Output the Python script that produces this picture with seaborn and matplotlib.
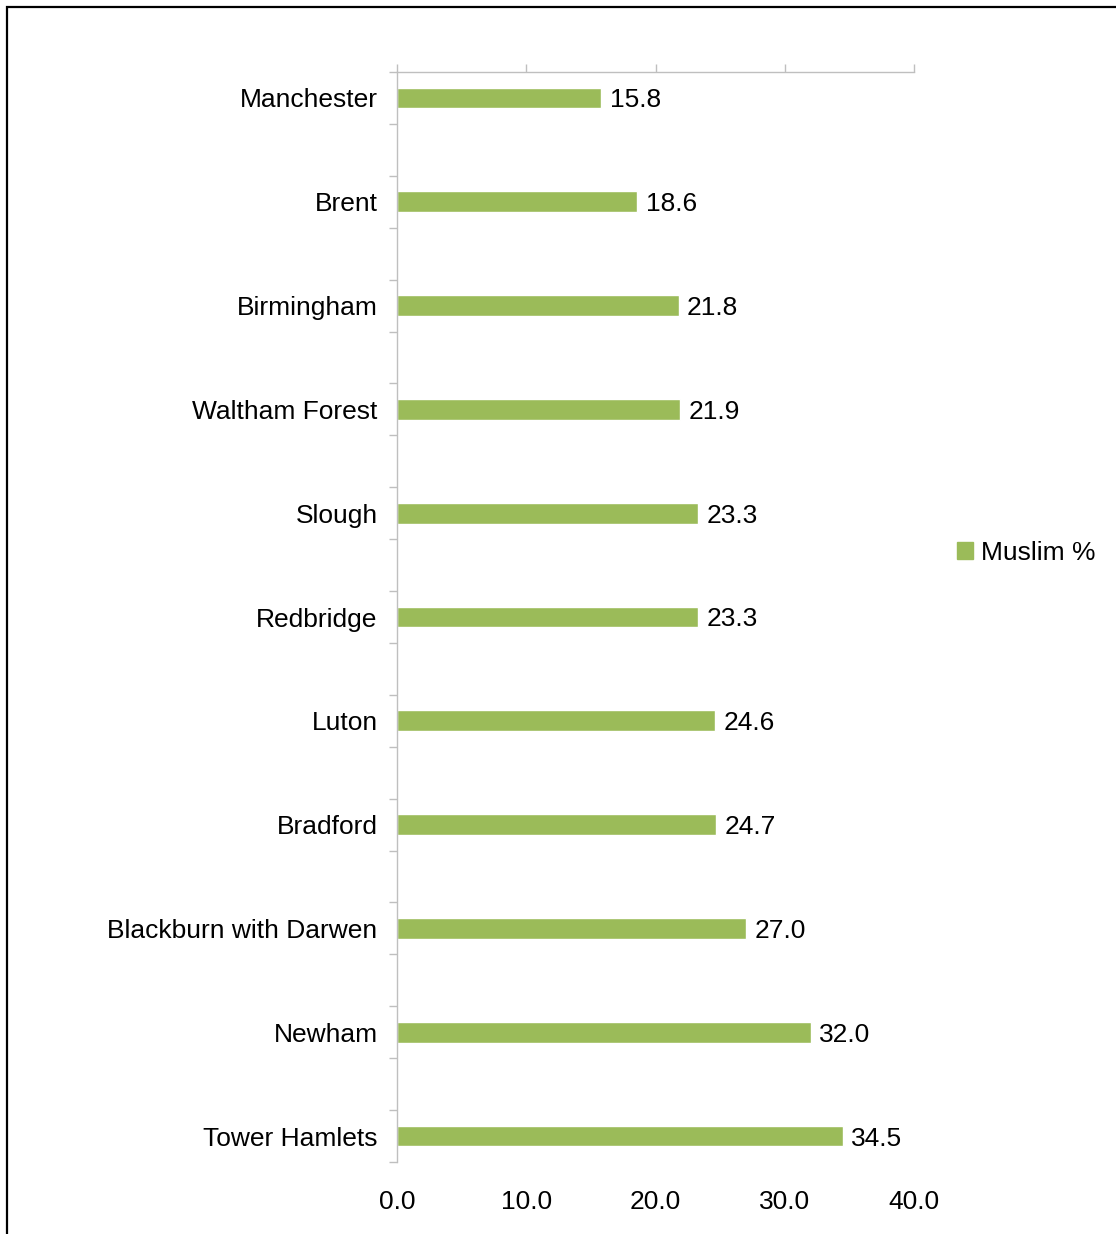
import matplotlib
matplotlib.use("Agg")
import matplotlib.pyplot as plt
import matplotlib.patches as mpatches
import pandas as pd
import seaborn as sns

cities = ["Manchester", "Brent", "Birmingham", "Waltham Forest", "Slough",
          "Redbridge", "Luton", "Bradford", "Blackburn with Darwen",
          "Newham", "Tower Hamlets"]
muslim_pct = [15.8, 18.6, 21.8, 21.9, 23.3, 23.3, 24.6, 24.7, 27.0, 32.0, 34.5]
x_ticks = [0, 10, 20, 30, 40]
series_name = "Muslim %"

bar_color = "#9BBB59"
axis_color = "#BFBFBF"

sns.set_style("white")
plt.rcParams["font.family"] = ["Liberation Sans", "DejaVu Sans"]
plt.rcParams["text.color"] = "black"
plt.rcParams["xtick.labelcolor"] = "black"
plt.rcParams["ytick.labelcolor"] = "black"

df = pd.DataFrame({"city": cities, "value": muslim_pct})

# each city sits in every other category slot, as in the original chart
order = []
for i, c in enumerate(cities):
    order.append(c)
    if i < len(cities) - 1:
        order.append(" " * (i + 1))

fig = plt.figure(figsize=(11.16, 12.34), dpi=100)
ax = fig.add_axes([397 / 1116, 1 - 1162 / 1234, (914 - 397) / 1116, (1162 - 72) / 1234])

sns.barplot(data=df, x="value", y="city", order=order, color=bar_color,
            saturation=1, width=0.4, ax=ax)
labels = ax.bar_label(ax.containers[0], fmt="%.1f", padding=6, fontsize=19,
                      color="black")
for t in labels:
    t.set_verticalalignment("center_baseline")

ax.set_xlim(0, 40)
ax.set_ylim(len(order) - 0.5, -0.5)
ax.set_xticks(x_ticks)
ax.set_xticklabels([f"{v:.1f}" for v in x_ticks], fontsize=19)
ax.tick_params(axis="x", which="major", top=True, bottom=False, labeltop=False,
               labelbottom=True, direction="out", length=6, width=1,
               color=axis_color, labelcolor="black", pad=14)

ax.set_yticks([2 * i for i in range(len(cities))])
ax.set_yticklabels(cities, fontsize=19)
ax.set_yticks([k - 0.5 for k in range(len(order) + 1)], minor=True)
ax.tick_params(axis="y", which="major", length=0, pad=14, labelcolor="black")
ax.tick_params(axis="y", which="minor", left=True, length=6, width=1,
               color=axis_color, direction="out")
ax.set_xlabel("")
ax.set_ylabel("")

for side in ["right", "bottom"]:
    ax.spines[side].set_visible(False)
for side in ["left", "top"]:
    ax.spines[side].set_color(axis_color)
    ax.spines[side].set_linewidth(1)

handle = mpatches.Patch(color=bar_color, label=series_name)
fig.legend(handles=[handle], loc="center left",
           bbox_to_anchor=(957 / 1116, 1 - 553 / 1234), frameon=False,
           fontsize=19, handlelength=0.6, handleheight=0.6,
           handletextpad=0.3, borderpad=0, borderaxespad=0,
           labelcolor="black")

# outer chart frame (cut off on the right and bottom)
frame = mpatches.Rectangle((7 / 1116, -0.1), 1.2, 1.1 - 7 / 1234,
                           transform=fig.transFigure, fill=False,
                           edgecolor="black", linewidth=1.6, clip_on=False)
fig.add_artist(frame)

fig.savefig("out.png", dpi=100)
